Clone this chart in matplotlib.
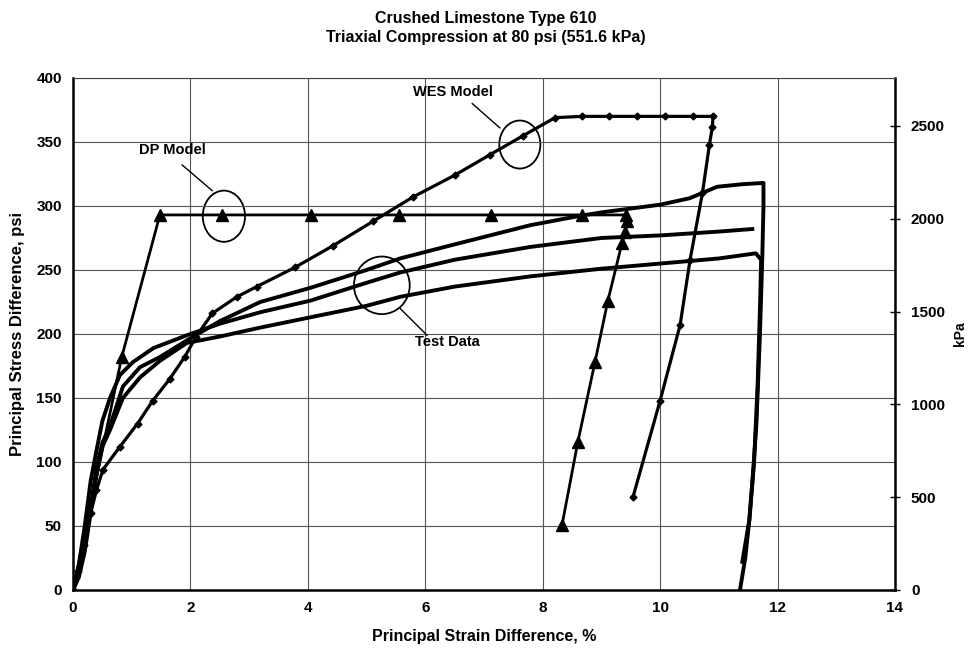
import matplotlib
matplotlib.use("Agg")
import matplotlib.pyplot as plt
from matplotlib.patches import Ellipse

plt.rcParams['font.family'] = ['Liberation Sans', 'DejaVu Sans']
plt.rcParams['font.weight'] = 'bold'

# psi -> kPa (80 psi = 551.6 kPa)
PSI_TO_KPA = 551.6 / 80.0

# DP model (triangles)
dp_x = [0, 0.83, 1.48, 2.54, 4.05, 5.55, 7.12, 8.67, 9.42, 9.43, 9.41, 9.35, 9.11, 8.89, 8.60, 8.33]
dp_y = [0, 182, 293, 293, 293, 293, 293, 293, 293, 288, 280, 271, 226, 178, 116, 51]

# WES model (small diamonds)
wes_x = [0, 0.08, 0.18, 0.30, 0.40, 0.51, 0.80, 1.10, 1.36, 1.65, 1.90, 2.10, 2.37, 2.79,
         3.13, 3.78, 4.43, 5.11, 5.79, 6.50, 7.10, 7.67, 8.21, 8.67, 9.13, 9.61, 10.09,
         10.56, 10.90, 10.89, 10.84, 10.72, 10.51, 10.34, 10.00, 9.54]
wes_y = [0, 15, 35, 60, 78, 94, 112, 130, 148, 165, 182, 198, 216, 229,
         237, 252, 269, 288, 307, 324, 340, 355, 369, 370, 370, 370, 370,
         370, 370, 362, 348, 310, 258, 207, 148, 73]

# Test data, three specimens
testA_x = [0, 0.10, 0.20, 0.30, 0.40, 0.50, 0.63, 0.85, 1.14, 1.48, 1.94, 2.50, 3.19, 4.04,
           5.00, 5.57, 6.50, 7.79, 8.60, 9.00, 10.00, 10.50, 10.97, 11.40, 11.76, 11.76,
           11.74, 11.70, 11.64, 11.58, 11.52, 11.45, 11.36]
testA_y = [0, 12, 35, 65, 95, 115, 128, 159, 174, 182, 195, 210, 225, 236,
           250, 259, 270, 285, 292, 295, 301, 306, 315, 317, 318, 300,
           260, 200, 130, 90, 55, 25, 0]

testB_x = [0, 0.10, 0.20, 0.30, 0.40, 0.50, 0.63, 0.80, 1.02, 1.37, 1.94, 2.50, 3.19, 4.04,
           5.00, 5.57, 6.50, 7.79, 9.00, 10.00, 11.00, 11.57]
testB_y = [0, 20, 50, 85, 109, 132, 150, 168, 178, 189, 199, 208, 217, 226,
           240, 248, 258, 268, 275, 277, 280, 282]

testC_x = [0, 0.10, 0.20, 0.30, 0.40, 0.50, 0.63, 0.85, 1.14, 1.48, 1.94, 2.50, 3.19, 4.04,
           5.00, 5.57, 6.50, 7.79, 9.00, 10.00, 11.00, 11.63, 11.72, 11.70, 11.66, 11.60,
           11.52, 11.40]
testC_y = [0, 10, 30, 60, 90, 112, 125, 150, 166, 179, 193, 198, 205, 213,
           222, 229, 237, 245, 251, 255, 259, 263, 258, 220, 160, 100,
           55, 22]

fig = plt.figure(figsize=(9.76, 6.53), dpi=100)
ax = fig.add_axes([0.0748, 0.0965, 0.8422, 0.7841])

ax.plot(testA_x, testA_y, color='black', lw=2.8, solid_joinstyle='round')
ax.plot(testB_x, testB_y, color='black', lw=2.8, solid_joinstyle='round')
ax.plot(testC_x, testC_y, color='black', lw=2.8, solid_joinstyle='round')
ax.plot(wes_x, wes_y, color='black', lw=2.3, marker='D', markersize=3.5)
ax.plot(dp_x, dp_y, color='black', lw=2.0, marker='^', markersize=8)

ax.set_xlim(0, 14)
ax.set_ylim(0, 400)
ax.set_xticks(range(0, 15, 2))
ax.set_yticks(range(0, 401, 50))
ax.grid(True, color='#555555', lw=0.8)
ax.tick_params(length=0, labelsize=11, pad=8)
for side in ['left', 'bottom']:
    ax.spines[side].set_linewidth(1.8)
ax.spines['top'].set_color('#444444')
ax.spines['right'].set_linewidth(1.8)

ax.set_xlabel('Principal Strain Difference, %', fontsize=11.5, fontweight='bold', labelpad=10)
ax.set_ylabel('Principal Stress Difference, psi', fontsize=12, fontweight='bold', labelpad=8)

# secondary kPa axis
ax2 = ax.twinx()
ax2.set_ylim(0, 400 * PSI_TO_KPA)
ax2.set_yticks(range(0, 2501, 500))
ax2.tick_params(direction='inout', length=7, width=1, labelsize=11, pad=8)
for s in ax2.spines.values():
    s.set_visible(False)
ax2.set_ylabel('kPa', fontsize=10, fontweight='bold')
ax2.yaxis.set_label_coords(1.070, 0.5)

# annotations: circles, leader lines, labels
ax.add_patch(Ellipse((2.57, 292), 0.72, 40, fill=False, lw=1.3, color='black'))
ax.add_patch(Ellipse((7.61, 348), 0.70, 37.5, fill=False, lw=1.3, color='black'))
ax.add_patch(Ellipse((5.26, 238), 0.95, 45, fill=False, lw=1.3, color='black'))
ax.plot([1.86, 2.37], [332, 312], color='black', lw=1)
ax.plot([6.80, 7.27], [380, 361], color='black', lw=1)
ax.plot([5.57, 6.03], [220, 199], color='black', lw=1)
ax.text(1.69, 344, 'DP Model', ha='center', va='center', fontsize=10.5, fontweight='bold')
ax.text(6.47, 389, 'WES Model', ha='center', va='center', fontsize=10.5, fontweight='bold')
ax.text(6.37, 194, 'Test Data', ha='center', va='center', fontsize=10.5, fontweight='bold')

fig.text(0.498, 0.957, 'Crushed Limestone Type 610\nTriaxial Compression at 80 psi (551.6 kPa)',
         ha='center', va='center', fontsize=11.5, fontweight='bold', linespacing=1.35)

fig.savefig('out.png', dpi=100)
